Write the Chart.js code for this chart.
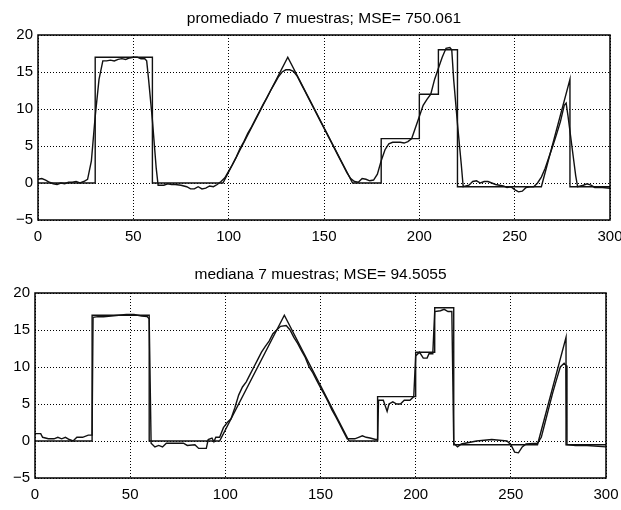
<!DOCTYPE html>
<html><head><meta charset="utf-8">
<script src="https://cdn.jsdelivr.net/npm/chart.js@4"></script>
<style>
body{margin:0;background:#fff;width:621px;height:510px;overflow:hidden;position:relative}
.w{position:absolute;left:0;width:621px;height:255px}
</style></head><body>
<div class="w" style="top:0"><canvas id="c1" width="621" height="255"></canvas></div>
<div class="w" style="top:255px"><canvas id="c2" width="621" height="255"></canvas></div>
<script>
// Titles
const titleTop = 'promediado 7 muestras; MSE= 750.061';
const titleBottom = 'mediana 7 muestras; MSE= 94.5055';

// Axis ticks
const xTicks = [0, 50, 100, 150, 200, 250, 300];
const yTicks = [-5, 0, 5, 10, 15, 20];

// Reference (clean) signal, breakpoints
const refX = [0, 30, 30, 60, 60, 97, 131, 165, 180, 180, 200, 200, 210, 210, 220, 220, 264, 279, 279, 300];
const refY = [0, 0, 17, 17, 0, 0, 17, 0, 0, 6, 6, 12, 12, 18, 18, -0.5, -0.5, 14, -0.5, -0.5];

// Moving average (7 samples)
const avgX = [0,2,4,6,8,10,12,14,16,18,20,22,24,26,28,30,32,34,36,38,40,42,44,46,48,50,52,54,56,57,58,60,62,63,66,68,70,72,75,78,80,82,84,86,88,90,92,94,96,98,100,102,104,106,108,110,112,114,116,118,120,122,124,126,128,130,132,134,136,138,140,142,144,146,148,150,152,154,156,158,160,162,164,166,168,170,172,174,176,178,180,182,184,186,188,190,192,194,196,198,200,202,204,206,208,210,212,214,216,217,218,220,222,223,226,228,230,232,234,236,238,240,242,244,246,248,250,252,254,256,258,260,262,264,266,268,270,272,274,276,277,278,280,282,283,286,288,290,292,296,300];
const avgY = [0.5,0.6,0.4,0.1,-0.1,-0.2,0,-0.1,0.1,0.1,0.2,0,0.2,0.5,3,9,14,16.5,16.5,16.6,16.5,16.7,16.8,16.7,16.9,17,17,16.8,16.8,16.5,14,8.5,2,-0.3,-0.3,-0.1,-0.2,-0.2,-0.3,-0.5,-0.8,-0.8,-0.5,-0.8,-0.7,-0.4,-0.5,-0.2,0.2,0.7,1.6,2.5,3.5,4.7,5.6,6.7,7.6,8.6,9.6,10.6,11.5,12.5,13.4,14.3,15,15.3,15.3,15.1,14.4,13.4,12.4,11.4,10.4,9.4,8.4,7.4,6.4,5.4,4.4,3.4,2.4,1.4,0.6,0.2,0.1,0.6,0.5,0.3,0.4,1.2,3,4.5,5.3,5.5,5.5,5.5,5.4,5.6,6,7.5,9,10.5,11.3,12,14,15.5,17,18.2,18.3,18,14,8,2.5,-0.5,-0.3,0.2,0.3,0,0.2,0.2,0,-0.2,-0.3,-0.4,-0.6,-0.5,-0.9,-1.2,-1.1,-0.6,-0.5,-0.5,0,0.8,2,3.5,5,6.6,8.3,10.5,10.8,9,5,1,-0.5,-0.3,-0.1,-0.3,-0.6,-0.6,-0.7];

// Median (7 samples)
const medX = [0,3,4,7,10,12,14,16,18,20,22,25,28,30,30.5,33,36,40,44,48,52,56,59,60,61,63,65,67,69,75,78,80,84,86,90,91,93,94,95,97,99,101,103,105,107,109,111,113,115,117,119,121,123,125,127,129,132,134,136,138,140,142,144,146,148,150,152,154,156,158,160,162,164,166,168,170,172,174,176,179,180,180.5,183,185,186,188,190,192,194,197,199,200,202,204,206,207,209,210,213,215,217,219,220,222,224,228,232,236,240,244,248,250,252,254,256,258,264,266,268,270,272,274,276,278,279,279.5,284,290,300];
const medY = [1,1,0.5,0.3,0.3,0.5,0.3,0.5,0.2,0,0.5,0.5,0.8,0.8,16.7,16.8,16.8,16.9,17,17.1,17.1,16.9,16.8,16.5,-0.3,-0.8,-0.6,-0.8,-0.3,-0.3,-0.3,-0.6,-0.5,-1,-1,0.2,0.4,-0.1,0.5,0.5,1.8,2.5,3,4.5,6.2,7.3,8,9,10,11,12,12.8,13.5,14.5,15,15.5,15.6,15,14,13.2,12.2,11.3,10,9.2,8.2,7.2,6.3,5.3,4.2,3.3,2.3,1.3,0.3,0.3,0.3,0.5,0.7,0.5,0.4,0.2,0.2,5.5,5.5,4,5,5.3,5,5,5.5,5.5,6,11.5,12,11.2,11.2,11.8,11.8,17.5,17.6,17.8,17.5,17.5,-0.3,-0.8,-0.4,-0.2,0,0.1,0.2,0.1,0,-0.5,-1.5,-1.6,-0.8,-0.4,-0.3,0.5,2.5,4.5,6.5,8.3,10,10.5,10.2,-0.5,-0.6,-0.6,-0.8];

const pts = (xs, ys) => xs.map((x, i) => ({x, y: ys[i]}));

const framePlugin = {
  id: 'frameTitle',
  afterDraw(chart, args, opts) {
    const {ctx, chartArea: a} = chart;
    ctx.save();
    ctx.strokeStyle = '#000';
    ctx.lineWidth = 1.5;
    ctx.strokeRect(a.left, a.top, a.right - a.left, a.bottom - a.top);
    ctx.fillStyle = '#000';
    ctx.font = '15.5px "Liberation Sans", Arial, sans-serif';
    ctx.textAlign = 'center';
    ctx.textBaseline = 'middle';
    ctx.fillText(opts.text, (a.left + a.right) / 2, opts.y);
    ctx.restore();
  }
};

function makeChart(id, fY, fX, title, padTop, titleY, leftW, xH, padRight) {
  const tickFont = {family: '"Liberation Sans", Arial, sans-serif', size: 15};
  new Chart(document.getElementById(id), {
    type: 'line',
    data: {
      datasets: [
        {data: pts(refX, refY), borderColor: '#111', borderWidth: 1.4, pointRadius: 0, tension: 0, fill: false},
        {data: pts(fX, fY), borderColor: '#111', borderWidth: 1.4, pointRadius: 0, tension: 0, fill: false}
      ]
    },
    options: {
      responsive: false,
      animation: false,
      layout: {padding: {top: padTop, right: padRight, left: 0, bottom: 0}},
      plugins: {
        legend: {display: false},
        tooltip: {enabled: false},
        frameTitle: {text: title, y: titleY}
      },
      scales: {
        x: {
          type: 'linear', min: 0, max: 300,
          afterBuildTicks: s => { s.ticks = xTicks.map(v => ({value: v})); },
          afterFit: s => { s.height = xH; s.paddingLeft = 0; s.paddingRight = 0; },
          ticks: {color: '#000', font: tickFont, padding: 8, maxRotation: 0, autoSkip: false},
          grid: {color: '#000', lineWidth: 1, drawTicks: false},
          border: {display: false, dash: [1, 2]}
        },
        y: {
          type: 'linear', min: -5, max: 20,
          afterBuildTicks: s => { s.ticks = yTicks.map(v => ({value: v})); },
          afterFit: s => { s.width = leftW; s.paddingTop = 0; s.paddingBottom = 0; },
          ticks: {color: '#000', font: tickFont, padding: 5,
            callback: v => (v < 0 ? '\u2212' + Math.abs(v) : String(v))},
          grid: {color: '#000', lineWidth: 1, drawTicks: false},
          border: {display: false, dash: [1, 2]}
        }
      }
    },
    plugins: [framePlugin]
  });
}

makeChart('c1', avgY, avgX, titleTop, 35, 19, 38, 35, 11);
makeChart('c2', medY, medX, titleBottom, 38, 20, 35, 32, 15);
</script>
</body></html>
